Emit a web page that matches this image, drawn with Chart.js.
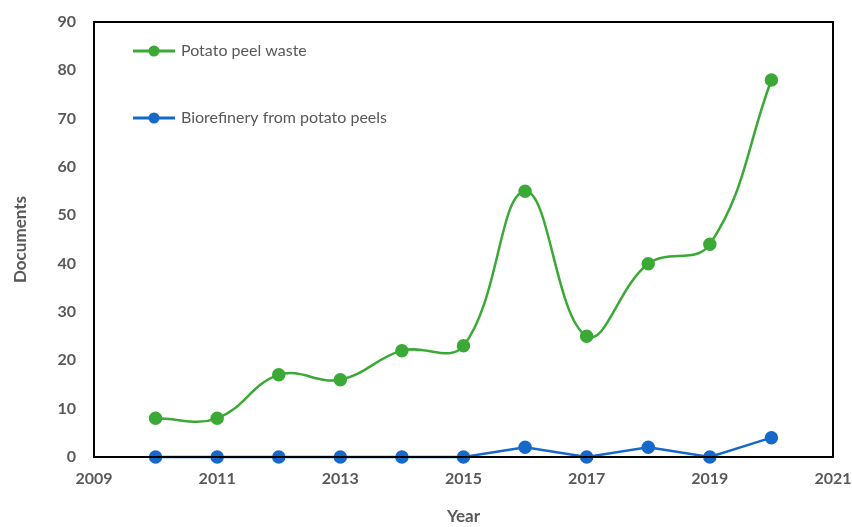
<!DOCTYPE html>
<html>
<head>
<meta charset="utf-8">
<script src="https://cdn.jsdelivr.net/npm/chart.js@4.4.0/dist/chart.umd.min.js"></script>
<style>
  html, body { margin: 0; padding: 0; background: #fff; }
  #wrap { width: 852px; height: 527px; }
</style>
</head>
<body>
<div id="wrap"><canvas id="docs"></canvas></div>
<script>
var years = [2010, 2011, 2012, 2013, 2014, 2015, 2016, 2017, 2018, 2019, 2020];
var peelWaste = [8, 8, 17, 16, 22, 23, 55, 25, 40, 44, 78];
var biorefinery = [0, 0, 0, 0, 0, 0, 2, 0, 2, 0, 4];
var seriesNames = ["Potato peel waste", "Biorefinery from potato peels"];

var green = "#3BA935";
var blue = "#1769C9";
var grey = "#595959";
var fontFam = "Lato, 'Open Sans', sans-serif";

function toPoints(vals) {
  return years.map(function (y, i) { return { x: y, y: vals[i] }; });
}

// box around the plot area
var frame = {
  id: "frame",
  afterDatasetsDraw: function (chart) {
    var a = chart.chartArea, c = chart.ctx;
    c.save();
    c.strokeStyle = "#000";
    c.lineWidth = 2;
    c.strokeRect(a.left, a.top, a.right - a.left, a.bottom - a.top);
    c.restore();
  }
};

// legend drawn inside the plot, top left
var innerLegend = {
  id: "innerLegend",
  afterDraw: function (chart) {
    var c = chart.ctx;
    var rows = [51, 118];
    c.save();
    chart.data.datasets.forEach(function (ds, i) {
      var y = rows[i];
      c.strokeStyle = ds.borderColor;
      c.lineWidth = 3;
      c.beginPath();
      c.moveTo(133, y);
      c.lineTo(175, y);
      c.stroke();
      c.fillStyle = ds.borderColor;
      c.beginPath();
      c.arc(154, y, 5.5, 0, Math.PI * 2);
      c.fill();
      c.fillStyle = grey;
      c.font = "16px " + fontFam;
      c.textBaseline = "middle";
      c.fillText(ds.label, 181, y);
    });
    c.restore();
  }
};

var chart = new Chart(document.getElementById("docs"), {
  type: "line",
  data: {
    datasets: [{
      label: seriesNames[0],
      data: toPoints(peelWaste),
      borderColor: green,
      backgroundColor: green,
      borderWidth: 2.5,
      pointRadius: 5.5,
      pointHoverRadius: 5.5,
      tension: 0.4,
      clip: false,
      fill: false
    }, {
      label: seriesNames[1],
      data: toPoints(biorefinery),
      borderColor: blue,
      backgroundColor: blue,
      borderWidth: 2.5,
      pointRadius: 5.5,
      pointHoverRadius: 5.5,
      tension: 0,
      clip: false,
      fill: false
    }]
  },
  options: {
    responsive: true,
    maintainAspectRatio: false,
    animation: false,
    layout: { autoPadding: false, padding: { top: 22, right: 19, left: 0, bottom: 0 } },
    plugins: {
      legend: { display: false },
      tooltip: { enabled: false }
    },
    scales: {
      x: {
        type: "linear",
        min: 2009,
        max: 2021,
        ticks: {
          stepSize: 2,
          color: grey,
          padding: 12,
          font: { family: fontFam, size: 16, weight: "bold" },
          callback: function (v) { return String(v); }
        },
        grid: { display: false, drawTicks: false },
        border: { display: false },
        title: {
          display: true,
          text: "Year",
          color: grey,
          padding: { top: 21, bottom: 0 },
          font: { family: fontFam, size: 17, weight: "bold" }
        },
        afterFit: function (s) {
          s.height = 70;
          s.paddingLeft = 0; s.paddingRight = 0;
        }
      },
      y: {
        min: 0,
        max: 90,
        ticks: {
          stepSize: 10,
          color: grey,
          padding: 18,
          font: { family: fontFam, size: 16, weight: "bold" }
        },
        grid: { display: false, drawTicks: false },
        border: { display: false },
        title: {
          display: true,
          text: "Documents",
          color: grey,
          padding: { top: 10, bottom: 4 },
          font: { family: fontFam, size: 17, weight: "bold" }
        },
        afterFit: function (s) {
          s.width = 94;
          s.paddingTop = 0; s.paddingBottom = 0;
        }
      }
    }
  },
  plugins: [frame, innerLegend]
});
</script>
</body>
</html>
